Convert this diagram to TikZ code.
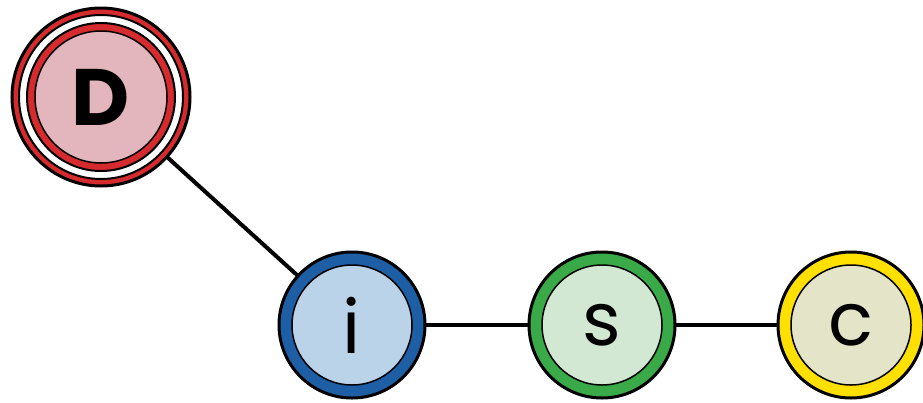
\documentclass[tikz,border=0pt]{standalone}
\usepackage{fontspec}
\setmainfont{Poppins}
\definecolor{dred}{HTML}{D62B2E}
\definecolor{dpink}{HTML}{E3B5BD}
\definecolor{iblue}{HTML}{1E5EA5}
\definecolor{ifill}{HTML}{BAD3E8}
\definecolor{sgreen}{HTML}{3AA948}
\definecolor{sfill}{HTML}{D3E8D2}
\definecolor{cyellow}{HTML}{FFE000}
\definecolor{cfill}{HTML}{E4E4C9}
\tikzset{
  ring/.style={circle, draw=black, line width=3pt, minimum size=146pt, inner sep=0pt},
  core/.style={circle, draw=black, line width=1.5pt, minimum size=120pt, inner sep=0pt, font=\fontsize{74}{74}\selectfont},
  link/.style={line width=4pt, black}
}
\begin{document}
\begin{tikzpicture}[x=1pt,y=-1pt]
\useasboundingbox (0,0) rectangle (923,402);
% links
\coordinate (dc) at (101,97);
\coordinate (ic) at (352,325);
\coordinate (sc) at (602,325);
\coordinate (cc) at (851,325);
\draw[link] (dc) -- (ic);
\draw[link] (ic) -- (sc);
\draw[link] (sc) -- (cc);
% D node
\node[circle, draw=black, line width=3pt, fill=dred, minimum size=178pt, inner sep=0pt] (d3) at (dc) {};
\node[circle, draw=black, line width=2pt, fill=white, minimum size=164pt, inner sep=0pt] (d2) at (dc) {};
\node[circle, draw=black, line width=2pt, fill=dred, minimum size=148pt, inner sep=0pt] (d1) at (dc) {};
\node[circle, draw=black, line width=1.5pt, fill=dpink, minimum size=132pt, inner sep=0pt, font=\fontsize{80}{80}\selectfont\bfseries] (d) at (dc) {D};
% i node
\node[ring, fill=iblue] (i0) at (ic) {};
\node[core, fill=ifill] (i) at (ic) {i};
% s node
\node[ring, fill=sgreen] (s0) at (sc) {};
\node[core, fill=sfill] (s) at (sc) {s};
% c node
\node[ring, fill=cyellow] (c0) at (cc) {};
\node[core, fill=cfill] (c) at (cc) {c};
\end{tikzpicture}
\end{document}
